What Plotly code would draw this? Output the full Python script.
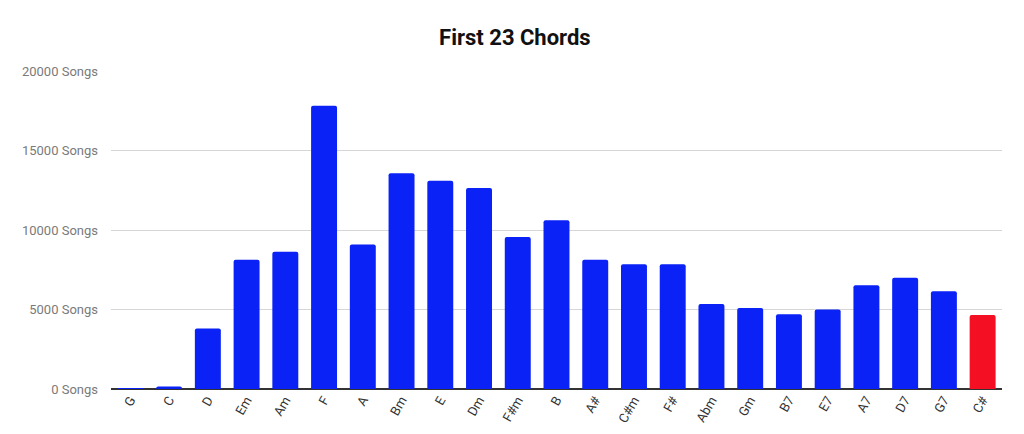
import plotly.graph_objects as go

chords = ["G", "C", "D", "Em", "Am", "F", "A", "Bm", "E", "Dm", "F#m", "B",
          "A#", "C#m", "F#", "Abm", "Gm", "B7", "E7", "A7", "D7", "G7", "C#"]
songs = [40, 150, 3800, 8130, 8630, 17810, 9090, 13570, 13100, 12640, 9560, 10610,
         8130, 7850, 7850, 5350, 5100, 4700, 5000, 6520, 7000, 6150, 4650]
highlight = "C#"
y_ticks = [0, 5000, 10000, 15000, 20000]
y_tick_labels = [f"{v} Songs" for v in y_ticks]

colors = ["#f50f22" if c == highlight else "#0a22f5" for c in chords]

fig = go.Figure(go.Bar(
    x=chords, y=songs,
    marker=dict(color=colors, line=dict(width=0), cornerradius=2),
    hovertemplate="%{x}: %{y}<extra></extra>",
))

fig.update_layout(
    width=1024, height=434,
    margin=dict(l=103, r=30, t=63, b=53),
    paper_bgcolor="white", plot_bgcolor="white",
    title=dict(text="<b>First 23 Chords</b>", x=0.495, xanchor="center",
               y=0.933, yanchor="middle",
               font=dict(family="Roboto, Arial, sans-serif", size=22, color="#111111")),
    bargap=0.33,
    showlegend=False,
    font=dict(family="Roboto, Arial, sans-serif"),
)
fig.update_xaxes(
    tickangle=-60, tickfont=dict(size=13, color="#333333"),
    showgrid=False, showline=False, ticks="",
)
fig.update_yaxes(
    range=[0, 20000], tickvals=y_ticks, ticktext=y_tick_labels,
    tickfont=dict(size=13, color="#7a7a7a"),
    showgrid=True, gridcolor="#d6d6d6", gridwidth=1,
    zeroline=True, zerolinecolor="#333333", zerolinewidth=1.5,
    ticks="", ticklabelstandoff=12,
)

fig.write_html("out.html")
